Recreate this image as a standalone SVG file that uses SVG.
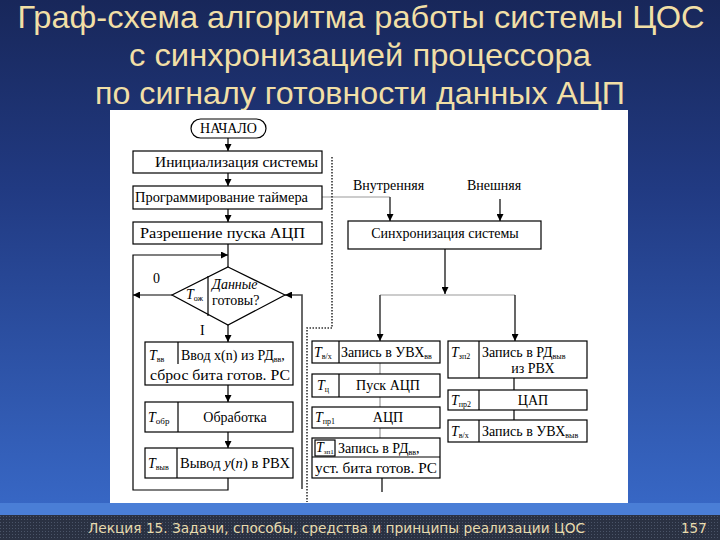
<svg xmlns="http://www.w3.org/2000/svg" width="720" height="540" viewBox="0 0 720 540">
<defs>
<linearGradient id="bg" x1="0" y1="0" x2="0" y2="1">
<stop offset="0" stop-color="#18275a"/>
<stop offset="0.35" stop-color="#213a82"/>
<stop offset="1" stop-color="#3a6ccc"/>
</linearGradient>
<pattern id="dots" width="3" height="3" patternUnits="userSpaceOnUse">
<rect width="3" height="3" fill="#2a3142"/>
<rect width="1" height="1" fill="#4a5468"/>
</pattern>
<marker id="ar" viewBox="0 0 10 10" refX="10" refY="5" markerWidth="7" markerHeight="7" orient="auto" markerUnits="userSpaceOnUse">
<path d="M0,0 L10,5 L0,10 Z" fill="#000"/>
</marker>
<style>
.t{font-family:"Liberation Sans",Arial,sans-serif;fill:#f1dfa6;font-size:32px;text-anchor:middle}
.f{font-family:"DejaVu Sans","Noto Sans",sans-serif;fill:#e8dcae;font-size:13.5px}
.s{font-family:"Liberation Serif","Times New Roman",serif;fill:#000;font-size:14px}
.i{font-style:italic}
.m{text-anchor:middle}
.b{fill:#fff;stroke:#000;stroke-width:1.2}
.ln{fill:none;stroke:#000;stroke-width:1.2}
.g{fill:none;stroke:#999;stroke-width:1.2}
.dk{fill:none;stroke:#444;stroke-width:1.6}
.dot{fill:none;stroke:#333;stroke-width:1.6;stroke-dasharray:1.5 1.5}
</style>
</defs>
<rect width="720" height="540" fill="url(#bg)"/>
<rect x="0" y="503" width="720" height="13" fill="#4a7ed6"/>
<rect x="0" y="515" width="720" height="25" fill="url(#dots)"/>
<text class="t" x="361" y="28" textLength="687" lengthAdjust="spacingAndGlyphs">Граф-схема алгоритма работы системы ЦОС</text>
<text class="t" x="360" y="66" textLength="462" lengthAdjust="spacingAndGlyphs">с синхронизацией процессора</text>
<text class="t" x="360" y="104" textLength="530" lengthAdjust="spacingAndGlyphs">по сигналу готовности данных АЦП</text>
<text class="f" x="88" y="533" textLength="497" lengthAdjust="spacingAndGlyphs">Лекция 15. Задачи, способы, средства и принципы реализации ЦОС</text>
<text class="f" x="681" y="533">157</text>
<rect x="110" y="110" width="518" height="393" fill="#fff"/>

<g id="connectors">
<line class="ln" x1="228" y1="138" x2="228" y2="151" marker-end="url(#ar)"/>
<line class="ln" x1="228" y1="173" x2="228" y2="186" marker-end="url(#ar)"/>
<line class="ln" x1="228" y1="209" x2="228" y2="222" marker-end="url(#ar)"/>
<line class="ln" x1="228" y1="244" x2="228" y2="267"/>
<polyline class="ln" points="228,478 228,490 133,490 133,255 228,255" marker-end="url(#ar)"/>
<line class="ln" x1="172" y1="295" x2="133" y2="295" marker-end="url(#ar)"/>
<line class="ln" x1="228" y1="325" x2="228" y2="342" marker-end="url(#ar)"/>
<line class="ln" x1="228" y1="385" x2="228" y2="402" marker-end="url(#ar)"/>
<line class="ln" x1="228" y1="432" x2="228" y2="448" marker-end="url(#ar)"/>
<polyline class="dk" points="302,489 302,295 285,295" marker-end="url(#ar)"/>
<line class="g" x1="322" y1="197" x2="390" y2="197"/>
<line class="dk" x1="390" y1="197" x2="390" y2="221" marker-end="url(#ar)"/>
<line class="ln" x1="500" y1="199" x2="500" y2="221" marker-end="url(#ar)"/>
<line class="ln" x1="445" y1="249" x2="445" y2="294" marker-end="url(#ar)"/>
<line class="g" x1="380" y1="295" x2="515" y2="295"/>
<line class="dk" x1="380" y1="295" x2="380" y2="341" marker-end="url(#ar)"/>
<line class="ln" x1="515" y1="295" x2="515" y2="341" marker-end="url(#ar)"/>
<line class="g" x1="380" y1="363" x2="380" y2="374"/>
<line class="g" x1="380" y1="397" x2="380" y2="407"/>
<line class="g" x1="380" y1="428" x2="380" y2="438"/>
<line class="ln" x1="382" y1="478" x2="382" y2="492"/>
<line class="ln" x1="514" y1="378" x2="514" y2="390"/>
<line class="ln" x1="514" y1="410" x2="514" y2="420"/>
<polyline class="dot" points="332,157 332,328 307,328 307,502"/>
</g>

<g id="start">
<rect class="b" x="191" y="119" width="75" height="19" rx="9.5"/>
<text class="s m" x="228.5" y="133" font-size="12">НАЧАЛО</text>
</g>
<g id="init">
<rect class="b" x="133" y="151" width="189" height="22"/>
<text class="s" x="155" y="167" font-size="15" textLength="163" lengthAdjust="spacingAndGlyphs">Инициализация системы</text>
</g>
<g id="timer">
<rect class="b" x="133" y="186" width="189" height="23"/>
<text class="s" x="135" y="202" font-size="15" textLength="173" lengthAdjust="spacingAndGlyphs">Программирование таймера</text>
</g>
<g id="adcen">
<rect class="b" x="133" y="222" width="189" height="22"/>
<text class="s" x="140" y="238" font-size="15" textLength="165" lengthAdjust="spacingAndGlyphs">Разрешение пуска АЦП</text>
</g>
<g id="decision">
<polygon class="b" points="228,267 285,295 228,325 172,295"/>
<line class="ln" x1="208" y1="276" x2="208" y2="316"/>
<text class="s i" x="186" y="299">T<tspan font-size="8" font-style="normal" dy="2">ож</tspan></text>
<text class="s i" x="212" y="289">Данные</text>
<text class="s" x="212" y="305">готовы?</text>
<text class="s" x="153" y="283">0</text>
<text class="s" x="200" y="335">I</text>
</g>
<g id="input">
<rect class="b" x="145" y="342" width="148" height="43"/>
<line class="ln" x1="178" y1="342" x2="178" y2="364"/>
<text class="s i" x="149" y="360">T<tspan font-size="8" font-style="normal" dy="2">вв</tspan></text>
<text class="s" x="181" y="360">Ввод x(n) из РД<tspan font-size="8" dy="2">вв</tspan><tspan dy="-2">,</tspan></text>
<text class="s" x="150" y="380" textLength="140" lengthAdjust="spacingAndGlyphs">сброс бита готов. РС</text>
</g>
<g id="proc">
<rect class="b" x="145" y="402" width="148" height="30"/>
<line class="ln" x1="178" y1="402" x2="178" y2="432"/>
<text class="s i" x="148" y="422">T<tspan font-size="9" font-style="normal" dy="2">обр</tspan></text>
<text class="s m" x="235" y="422">Обработка</text>
</g>
<g id="output">
<rect class="b" x="145" y="448" width="148" height="30"/>
<line class="ln" x1="177" y1="448" x2="177" y2="478"/>
<text class="s i" x="148" y="468">T<tspan font-size="8" font-style="normal" dy="2">выв</tspan></text>
<text class="s" x="180" y="468" textLength="110" lengthAdjust="spacingAndGlyphs">Вывод <tspan class="i">y</tspan>(<tspan class="i">n</tspan>) в РВХ</text>
</g>
<g id="sync">
<rect class="b" x="348" y="221" width="193" height="28"/>
<text class="s m" x="445" y="238" font-size="10.5">Синхронизация системы</text>
<text class="s" x="353" y="190" font-size="14">Внутренняя</text>
<text class="s" x="467" y="190" font-size="14">Внешняя</text>
</g>
<g id="shin">
<rect class="b" x="312" y="341" width="128" height="22"/>
<line class="ln" x1="339" y1="341" x2="339" y2="363"/>
<text class="s i" x="314" y="357">T<tspan font-size="8" font-style="normal" dy="2">в/х</tspan></text>
<text class="s" x="341" y="357">Запись в УВХ<tspan font-size="8" dy="2">вв</tspan></text>
</g>
<g id="adcstart">
<rect class="b" x="312" y="374" width="128" height="23"/>
<line class="ln" x1="339" y1="374" x2="339" y2="397"/>
<text class="s i" x="317" y="390">T<tspan font-size="8" font-style="normal" dy="2">ц</tspan></text>
<text class="s m" x="388" y="390">Пуск АЦП</text>
</g>
<g id="adc">
<rect class="b" x="312" y="407" width="128" height="21"/>
<text class="s i" x="315" y="422">T<tspan font-size="8" font-style="normal" dy="2">пр1</tspan></text>
<text class="s m" x="388" y="422">АЦП</text>
</g>
<g id="wrin">
<rect class="b" x="312" y="438" width="128" height="40"/>
<rect class="b" x="315" y="440" width="20" height="16"/>
<line class="ln" x1="312" y1="457" x2="440" y2="457"/>
<text class="s i" x="316" y="452" font-size="12">T<tspan font-size="7" font-style="normal" dy="2">зп1</tspan></text>
<text class="s" x="338" y="453" font-size="13">Запись в РД<tspan font-size="8" dy="2">вв</tspan><tspan dy="-2">,</tspan></text>
<text class="s" x="315" y="473" textLength="122" lengthAdjust="spacingAndGlyphs">уст. бита готов. РС</text>
</g>
<g id="wrout">
<rect class="b" x="448" y="341" width="139" height="37"/>
<line class="ln" x1="479" y1="341" x2="479" y2="378"/>
<text class="s i" x="451" y="357">T<tspan font-size="8" font-style="normal" dy="2">зп2</tspan></text>
<text class="s" x="482" y="357">Запись в РД<tspan font-size="8" dy="2">выв</tspan></text>
<text class="s m" x="533" y="373">из РВХ</text>
</g>
<g id="dac">
<rect class="b" x="448" y="390" width="139" height="20"/>
<line class="ln" x1="479" y1="390" x2="479" y2="410"/>
<text class="s i" x="451" y="405">T<tspan font-size="8" font-style="normal" dy="2">пр2</tspan></text>
<text class="s m" x="533" y="405">ЦАП</text>
</g>
<g id="shout">
<rect class="b" x="448" y="420" width="139" height="22"/>
<line class="ln" x1="479" y1="420" x2="479" y2="442"/>
<text class="s i" x="451" y="436">T<tspan font-size="8" font-style="normal" dy="2">в/х</tspan></text>
<text class="s" x="482" y="436">Запись в УВХ<tspan font-size="8" dy="2">выв</tspan></text>
</g>
</svg>
